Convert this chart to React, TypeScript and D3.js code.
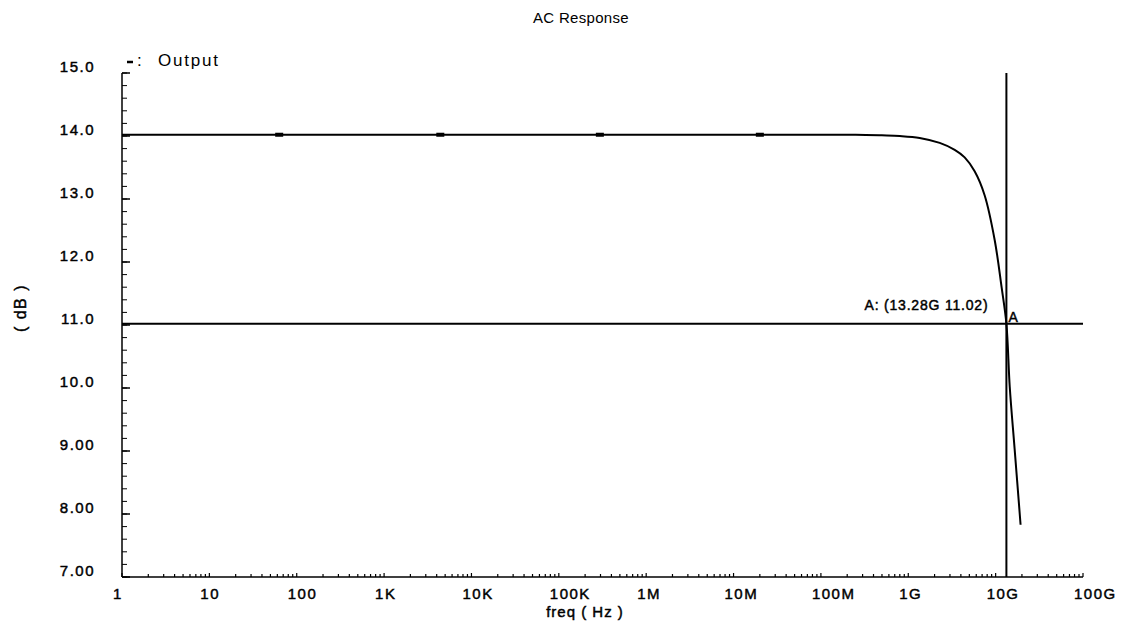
import React from "react";
import * as d3 from "d3";

const freqs = [1, 10, 100, 1e3, 1e4, 1e5, 1e6, 1e7, 1e8, 2.5e8, 4.97e8, 7.98e8, 1.35e9, 2.29e9, 3.4e9, 4.42e9, 5.75e9, 7.48e9, 9.75e9, 11.7e9, 13.28e9, 14.5e9, 16.5e9, 19.3e9];
const dB = [14.02, 14.02, 14.02, 14.02, 14.02, 14.02, 14.02, 14.02, 14.02, 14.02, 14.01, 14.0, 13.97, 13.89, 13.78, 13.66, 13.44, 13.06, 12.35, 11.6, 11.02, 10.02, 9.03, 7.83];
const symbolFreqs = [63, 4.4e3, 2.95e5, 2.0e7];
const xTickValues = [1, 1e1, 1e2, 1e3, 1e4, 1e5, 1e6, 1e7, 1e8, 1e9, 1e10, 1e11];
const xTickLabels = ["1", "10", "100", "1K", "10K", "100K", "1M", "10M", "100M", "1G", "10G", "100G"];
const yTickValues = [7, 8, 9, 10, 11, 12, 13, 14, 15];
const yTickLabels = ["7.00", "8.00", "9.00", "10.0", "11.0", "12.0", "13.0", "14.0", "15.0"];
const markerFreq = 13.28e9;
const markerDb = 11.02;
const markerLabel = "A: (13.28G 11.02)";

export default function App() {
  const W = 1127, H = 626;
  const x = d3.scaleLog().domain([1, 1e11]).range([122, 1083]);
  const y = d3.scaleLinear().domain([7, 15]).range([577, 73]);
  const line = d3
    .line<number>()
    .x((_, i) => x(freqs[i]))
    .y((d) => y(d))
    .curve(d3.curveCatmullRom.alpha(0.5));

  const minorX: number[] = [];
  for (let e = 0; e < 11; e++) for (let m = 2; m <= 9; m++) minorX.push(m * Math.pow(10, e));
  const minorY: number[] = [];
  for (let v = 7; v < 15; v += 0.2) minorY.push(v);

  const font = "'Liberation Sans', Arial, sans-serif";
  const left = x.range()[0], right = x.range()[1];
  const bottom = y.range()[0], top = y.range()[1];
  const thick = { stroke: "#000", strokeWidth: 0.45 };

  return (
    <svg width={W} height={H} style={{ position: "absolute", left: 0, top: 0, background: "#fff" }}>
      <rect x={0} y={0} width={W} height={H} fill="#fff" />
      <text x={581} y={23} textAnchor="middle" fontFamily={font} fontSize={15} letterSpacing={0.3}>AC Response</text>

      {/* legend */}
      <line x1={127} x2={133} y1={62} y2={62} stroke="#000" strokeWidth={2.5} />
      <text x={137} y={66} fontFamily={font} fontSize={17} letterSpacing={1.5}>:</text>
      <text x={158} y={66} fontFamily={font} fontSize={17} letterSpacing={1.8}>Output</text>

      {/* axes */}
      <line x1={left} x2={left} y1={top} y2={bottom} stroke="#000" strokeWidth={1.5} />
      <line x1={left} x2={right} y1={bottom} y2={bottom} stroke="#000" strokeWidth={1.5} />

      {minorY.map((v, i) => (
        <line key={"my" + i} x1={left} x2={left + 5} y1={y(v)} y2={y(v)} stroke="#000" strokeWidth={1} />
      ))}
      {yTickValues.map((v, i) => (
        <g key={"yt" + i}>
          <line x1={left} x2={left + 8} y1={y(v)} y2={y(v)} stroke="#000" strokeWidth={1.5} />
          <text x={95} y={y(v) - 1} textAnchor="end" fontFamily={font} fontSize={15} letterSpacing={1.5} {...thick}>{yTickLabels[i]}</text>
        </g>
      ))}

      {minorX.map((v, i) => (
        <line key={"mx" + i} x1={x(v)} x2={x(v)} y1={bottom} y2={bottom - 3} stroke="#000" strokeWidth={1.2} />
      ))}
      {xTickValues.map((v, i) => (
        <g key={"xt" + i}>
          <line x1={x(v)} x2={x(v)} y1={bottom} y2={bottom - 4} stroke="#000" strokeWidth={1.2} />
          <text x={x(v) - 9} y={599} textAnchor="start" fontFamily={font} fontSize={15} letterSpacing={1.5} {...thick}>{xTickLabels[i]}</text>
        </g>
      ))}

      <text x={585} y={617} textAnchor="middle" fontFamily={font} fontSize={15} letterSpacing={1} {...thick}>freq ( Hz )</text>
      <text transform={`translate(26, 308) rotate(-90)`} textAnchor="middle" fontFamily={font} fontSize={16} letterSpacing={1.5} {...thick}>( dB )</text>

      {/* curve */}
      <path d={line(dB) || ""} fill="none" stroke="#000" strokeWidth={2} />
      {symbolFreqs.map((f, i) => (
        <rect key={"s" + i} x={x(f) - 4} y={y(14.02) - 2} width={8} height={4} fill="#000" />
      ))}

      {/* marker A */}
      <line x1={left} x2={right} y1={y(markerDb)} y2={y(markerDb)} stroke="#000" strokeWidth={2} />
      <line x1={x(markerFreq)} x2={x(markerFreq)} y1={top} y2={bottom} stroke="#000" strokeWidth={2} />
      <text x={x(markerFreq) - 18} y={y(markerDb) - 14} textAnchor="end" fontFamily={font} fontSize={14} letterSpacing={0.8} {...thick}>{markerLabel}</text>
      <text x={x(markerFreq) + 2} y={y(markerDb) - 2} textAnchor="start" fontFamily={font} fontSize={14} {...thick}>A</text>
    </svg>
  );
}
